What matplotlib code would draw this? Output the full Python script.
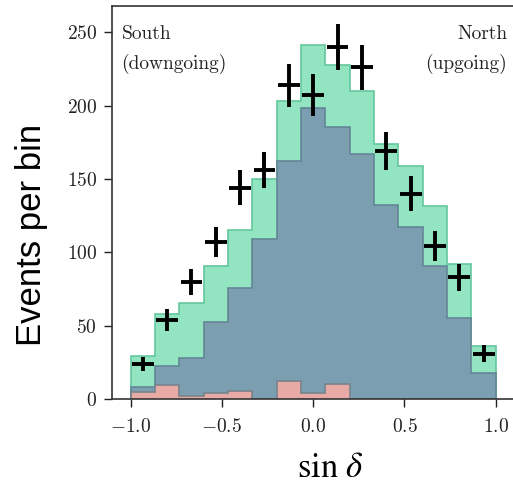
import matplotlib
matplotlib.use('Agg')
import matplotlib.pyplot as plt
import numpy as np

# 15 bins in sin(dec) from -1 to 1
bin_edges = np.linspace(-1.0, 1.0, 16)

# stacked components (events per bin)
muons = [4.5, 9.7, 2, 4, 5.3, 0, 12.6, 4, 9.9, 0, 0, 0, 0, 0, 0]
atmo_nu = [3.5, 13.1, 26, 48.4, 70.5, 109, 149.4, 194.5, 175.5, 167, 132.5, 117, 90.6, 55, 18]
astro_nu = [21, 35.2, 37.3, 38.2, 39.2, 40.7, 41, 43.1, 42.6, 43, 41.3, 41.8, 41, 37, 18]

# observed counts
observed = [24, 54, 80, 107, 144, 156, 214, 207, 240, 226, 169, 140, 104, 83, 31]

plt.rcParams['font.family'] = 'cmr10'
plt.rcParams['mathtext.fontset'] = 'cm'
plt.rcParams['axes.formatter.use_mathtext'] = True

fig = plt.figure(figsize=(5.13, 4.86), dpi=100)
ax = fig.add_axes([0.219, 0.179, 0.783, 0.809])

m = np.array(muons)
a = m + np.array(atmo_nu)
tot = a + np.array(astro_nu)

ax.stairs(tot, bin_edges, fill=True, color='#93e4c1')
ax.stairs(tot, bin_edges, color='#63c79d', lw=1.2)
ax.stairs(a, bin_edges, fill=True, color='#7b9eb0')
ax.stairs(a, bin_edges, color='#628796', lw=1.2)
ax.stairs(m, bin_edges, fill=True, color='#e8aaa4')
ax.stairs(m, bin_edges, color='#77848c', lw=1.2)

centers = 0.5 * (bin_edges[1:] + bin_edges[:-1])
obs = np.array(observed)
ax.errorbar(centers, obs, yerr=np.sqrt(obs), xerr=0.06, fmt='none',
            ecolor='black', elinewidth=2.8, capsize=0)

ax.set_xlim(-1.1, 1.1)
ax.set_ylim(0, 268)
ax.set_xticks([-1.0, -0.5, 0.0, 0.5, 1.0])
ax.set_yticks([0, 50, 100, 150, 200, 250])
ax.tick_params(labelsize=14, length=6, width=1, colors='#222222', pad=5)
ax.tick_params(axis='x', pad=8)
for s in ax.spines.values():
    s.set_color('#333333')
    s.set_linewidth(1.2)
ax.spines['right'].set_visible(False)

ax.text(-1.05, 255, 'South\n(downgoing)', fontsize=14, ha='left', va='top',
        linespacing=1.75, color='#222222')
ax.text(1.062, 255, 'North\n(upgoing)', fontsize=14, ha='right', va='top',
        multialignment='right', linespacing=1.75, color='#222222')

fig.text(32 / 513, 1 - 234.5 / 486, 'Events per bin', rotation=90,
         family='Liberation Sans', fontsize=25, ha='center', va='center')
fig.text(330 / 513, 1 - 468 / 486, r'$\sin\,\delta$', math_fontfamily='stix',
         fontsize=25, ha='center', va='center')

fig.savefig('out.png', dpi=100)
plt.close()
